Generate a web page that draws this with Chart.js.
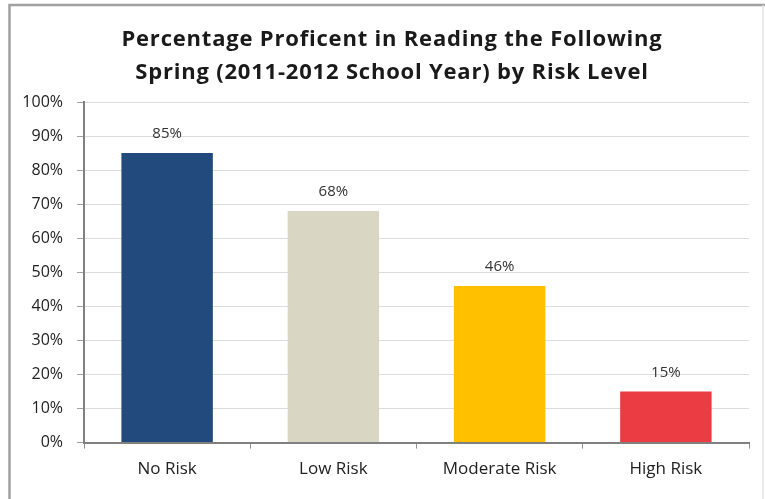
<!DOCTYPE html>
<html>
<head>
<meta charset="utf-8">
<script src="https://cdn.jsdelivr.net/npm/chart.js"></script>
<style>
  html, body { margin: 0; padding: 0; background: #fff; }
  #wrap { width: 765px; height: 499px; position: relative; }
</style>
</head>
<body>
<div id="wrap"><canvas id="chart"></canvas></div>
<script>
// chart data
const categories = ['No Risk', 'Low Risk', 'Moderate Risk', 'High Risk'];
const percentProficient = [85, 68, 46, 15];
const barColors = ['#234a7c', '#d9d6c3', '#ffc000', '#ea3c42'];
const titleLines = ['Percentage Proficent in Reading the Following', 'Spring (2011-2012 School Year) by Risk Level'];

const fontFamily = '"Open Sans", Lato, sans-serif';

// gray frame + title, drawn by hand so the title can sit off-centre like the original
const framePlugin = {
    id: 'frame',
    beforeDraw(chart) {
        const ctx = chart.ctx;
        ctx.save();
        ctx.strokeStyle = '#a0a0a0';
        ctx.lineWidth = 2.5;
        ctx.beginPath();
        ctx.moveTo(9.5, 499);
        ctx.lineTo(9.5, 5);
        ctx.lineTo(765, 5);
        ctx.stroke();
        ctx.strokeStyle = '#e4e4e4';
        ctx.lineWidth = 1.5;
        ctx.beginPath();
        ctx.moveTo(763, 5);
        ctx.lineTo(763, 499);
        ctx.stroke();

        ctx.fillStyle = '#1a1a1a';
        ctx.font = 'bold 22px ' + fontFamily;
        ctx.letterSpacing = '0.8px';
        ctx.textAlign = 'center';
        ctx.textBaseline = 'middle';
        titleLines.forEach((line, i) => {
            ctx.fillText(line, 392, 40 + i * 33);
        });
        ctx.restore();
    }
};

// value labels above each bar
const valueLabels = {
    id: 'valueLabels',
    afterDatasetsDraw(chart) {
        const ctx = chart.ctx;
        const meta = chart.getDatasetMeta(0);
        ctx.save();
        ctx.font = '15px ' + fontFamily;
        ctx.fillStyle = '#333';
        ctx.textAlign = 'center';
        ctx.textBaseline = 'middle';
        meta.data.forEach((bar, i) => {
            ctx.fillText(percentProficient[i] + '%', bar.x, bar.y - 19);
        });
        ctx.restore();
    }
};

new Chart(document.getElementById('chart'), {
    type: 'bar',
    data: {
        labels: categories,
        datasets: [{
            data: percentProficient,
            backgroundColor: barColors,
            barPercentage: 0.55,
            categoryPercentage: 1
        }]
    },
    options: {
        responsive: true,
        maintainAspectRatio: false,
        animation: false,
        layout: {
            padding: {left: 0, right: 16, top: 102, bottom: 10}
        },
        plugins: {
            legend: {display: false},
            tooltip: {enabled: false},
            title: {display: false}
        },
        scales: {
            x: {
                grid: {
                    offset: true,
                    drawOnChartArea: false,
                    drawTicks: true,
                    tickLength: 6,
                    color: '#909090'
                },
                border: {color: '#808080', width: 2},
                ticks: {
                    color: '#222',
                    padding: 10,
                    font: {family: fontFamily, size: 17}
                }
            },
            y: {
                min: 0,
                max: 100,
                afterFit(scale) { scale.width = 84; },
                grid: {
                    color: '#dcdcdc',
                    tickColor: '#a0a0a0',
                    tickLength: 7
                },
                border: {color: '#808080', width: 2},
                ticks: {
                    stepSize: 10,
                    color: '#222',
                    padding: 14,
                    font: {family: fontFamily, size: 16},
                    callback: v => v + '%'
                }
            }
        }
    },
    plugins: [framePlugin, valueLabels]
});
</script>
</body>
</html>
